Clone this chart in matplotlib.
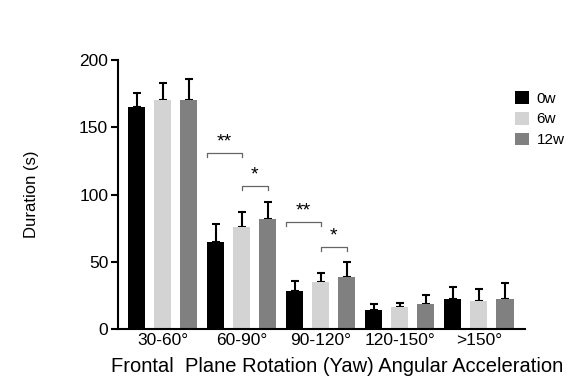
import matplotlib
matplotlib.use("Agg")
import matplotlib.pyplot as plt
import numpy as np

plt.rcParams["font.family"] = ["Liberation Sans", "DejaVu Sans"]

# Mean duration and upper error (mean + SD) per acceleration bin
bins = ["30-60°", "60-90°", "90-120°", "120-150°", ">150°"]
groups = ["0w", "6w", "12w"]
means = {
    "0w": [165, 65, 28, 14, 22],
    "6w": [170, 76, 35, 16.5, 21],
    "12w": [170, 82, 39, 18.5, 22],
}
upper = {
    "0w": [175.5, 78, 36, 18.5, 31],
    "6w": [183, 87, 41.5, 19.5, 29.5],
    "12w": [186, 94.5, 49.5, 25, 34.5],
}
colors = {"0w": "#000000", "6w": "#d3d3d3", "12w": "#808080"}

# significance brackets: (bin index, from group, to group, label, height)
brackets = [
    (1, "0w", "6w", "**", 131),
    (1, "6w", "12w", "*", 106),
    (2, "0w", "6w", "**", 79.5),
    (2, "6w", "12w", "*", 61),
]

offset = 0.33
width = 0.22
x = np.arange(len(bins))

fig = plt.figure(figsize=(5.82, 3.81), dpi=100)
ax = fig.add_axes([0.2027, 0.1365, 0.6993, 0.706])

for k, g in enumerate(groups):
    pos = x + (k - 1) * offset
    m = np.array(means[g])
    err = np.array(upper[g]) - m
    ax.bar(pos, m, width, color=colors[g], label=g, zorder=2)
    ax.errorbar(pos, m, yerr=[np.zeros_like(err), err], fmt="none",
                ecolor="black", elinewidth=1.5, capsize=2.6, capthick=1.5, zorder=1)

for b, g1, g2, lab, h in brackets:
    k1, k2 = groups.index(g1), groups.index(g2)
    x1 = b + (k1 - 1) * offset - (width / 2 if k1 == 0 else 0)
    x2 = b + (k2 - 1) * offset
    ax.plot([x1, x1, x2, x2], [h - 3, h, h, h - 3], color="#666666", lw=0.9)
    ax.text((x1 + x2) / 2, h + 2, lab, ha="center", va="bottom", fontsize=14)

ax.set_xlim(-0.566, 4.585)
ax.set_ylim(0, 200)
ax.set_yticks([0, 50, 100, 150, 200])
ax.set_xticks(x)
ax.set_xticklabels(bins, fontsize=12.5)
ax.tick_params(axis="x", length=0, pad=3)
ax.tick_params(axis="y", labelsize=12.5, width=1.5, length=5, pad=2)
for side in ["top", "right"]:
    ax.spines[side].set_visible(False)
for side in ["left", "bottom"]:
    ax.spines[side].set_linewidth(1.5)

ax.set_ylabel("Duration (s)", fontsize=12)
ax.yaxis.set_label_coords(-0.195, 0.5)
fig.text(337.5 / 582, 1 - 366.5 / 381, "Frontal  Plane Rotation (Yaw) Angular Acceleration",
         ha="center", va="center", fontsize=14.5)

fig.legend(loc="upper left", bbox_to_anchor=(509 / 582, 1 - 85 / 381), frameon=False,
           fontsize=11, handlelength=0.9, handleheight=0.9, handletextpad=0.5,
           labelspacing=0.4, borderaxespad=0)

fig.savefig("out.png", dpi=100)
